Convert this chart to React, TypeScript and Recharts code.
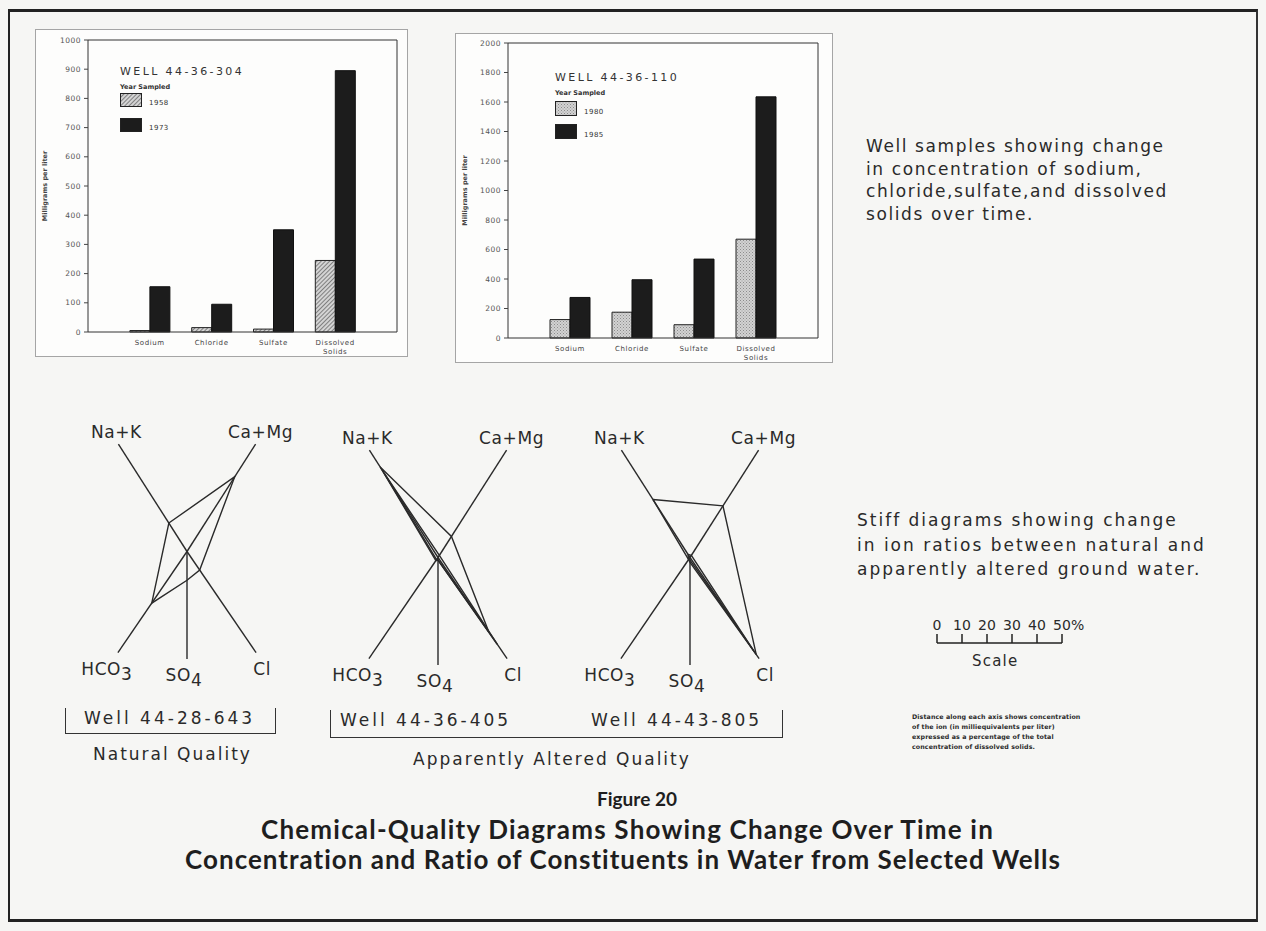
import { BarChart, Bar, XAxis, YAxis, Legend, Label, ScatterChart, Scatter } from 'recharts';

// concentration in milligrams per liter
const constituents = ['Sodium', 'Chloride', 'Sulfate', 'Dissolved Solids'];

const well304Years = ['1958', '1973'];
const well304Early = [5, 15, 10, 245];
const well304Late = [155, 95, 350, 895];
const well304Ticks = [0, 100, 200, 300, 400, 500, 600, 700, 800, 900, 1000];

const well110Years = ['1980', '1985'];
const well110Early = [125, 175, 90, 670];
const well110Late = [275, 395, 535, 1635];
const well110Ticks = [0, 200, 400, 600, 800, 1000, 1200, 1400, 1600, 1800, 2000];

// stiff diagrams: percent of total dissolved solids along each ion axis
const ions = ['Na+K', 'Ca+Mg', 'Cl', 'SO4', 'HCO3'];
const ionAxisLengths = [51, 51, 49, 43, 49];
const well643Samples = [[13.5, 35.5, 9, 11.5, 25]];
const well405Samples = [
  [43, 10, 36, 1, 1.5],
  [40, 1, 42, 1, 1],
];
const well805Samples = [
  [27.5, 24.5, 47, 2, 1],
  [1.5, 1, 45, 1, 1],
];

const scaleTicks = [0, 10, 20, 30, 40, 50];

// direction of each ion axis (x right, y up)
const ionDir: Record<string, [number, number]> = {
  'Na+K': [-0.538, 0.843],
  'Ca+Mg': [0.538, 0.843],
  Cl: [0.564, -0.826],
  SO4: [0, -1],
  HCO3: [-0.564, -0.826],
};
const ionLabelOffset: Record<string, [number, number]> = {
  'Na+K': [-2, -6],
  'Ca+Mg': [5, -6],
  Cl: [6, 22],
  SO4: [-3, 22],
  HCO3: [-11, 22],
};

const SANS = '"DejaVu Sans", sans-serif';
const INK = '#2a2a2a';

const toXY = (values: number[]) =>
  values.map((v, i) => ({ x: v * ionDir[ions[i]][0], y: v * ionDir[ions[i]][1] }));

const CategoryTick = ({ x, y, payload }: any) => {
  const words = String(payload.value).split(' ');
  return (
    <text x={x} y={y} textAnchor="middle" fontSize={7} fill="#444" fontFamily={SANS} letterSpacing={0.6}>
      {words.map((w, i) => (
        <tspan key={w} x={x} dy={i === 0 ? 5 : 9}>
          {w}
        </tspan>
      ))}
    </text>
  );
};

const YTitle = (props: any) => {
  const vb = props.viewBox;
  const cx = vb.x + 10;
  const cy = vb.y + vb.height / 2;
  return (
    <text
      x={cx}
      y={cy}
      transform={`rotate(-90 ${cx} ${cy})`}
      textAnchor="middle"
      dominantBaseline="central"
      fontSize={6.5}
      fontWeight={700}
      fill="#444"
      fontFamily={SANS}
    >
      Milligrams per liter
    </text>
  );
};

interface LegendProps {
  well: string;
  years: string[];
  fills: string[];
  gaps: number[];
  swatchH: number;
}

function WellLegend({ well, years, fills, gaps, swatchH }: LegendProps) {
  return (
    <div style={{ fontFamily: SANS, color: '#333', textAlign: 'left' }}>
      <div style={{ fontSize: 11, letterSpacing: 2.4, lineHeight: '12px' }}>WELL {well}</div>
      <div style={{ fontSize: 6.5, fontWeight: 700, lineHeight: '8px', marginTop: gaps[0] }}>Year Sampled</div>
      {years.map((yr, i) => (
        <div key={yr} style={{ display: 'flex', alignItems: 'flex-end', marginTop: gaps[i + 1] }}>
          <svg width={22} height={swatchH} style={{ display: 'block' }}>
            <rect x={0.5} y={0.5} width={21} height={swatchH - 1} fill={fills[i]} stroke="#222" />
          </svg>
          <span style={{ fontSize: 7, marginLeft: 7, lineHeight: '8px', letterSpacing: 0.5 }}>{yr}</span>
        </div>
      ))}
    </div>
  );
}

interface WellBarProps {
  well: string;
  years: string[];
  early: number[];
  late: number[];
  ticks: number[];
  earlyFill: string;
  left: number;
  top: number;
  width: number;
  height: number;
  marginTop: number;
  marginRight: number;
  legendPos: { left: number; top: number };
  legendGaps: number[];
  swatchH: number;
}

function WellBarChart(p: WellBarProps) {
  const data = constituents.map((name, i) => ({ name, early: p.early[i], late: p.late[i] }));
  const max = p.ticks[p.ticks.length - 1];
  const band = (p.width - 53 - p.marginRight) / 5;
  return (
    <div
      style={{
        position: 'absolute',
        left: p.left,
        top: p.top,
        width: p.width,
        height: p.height,
        background: '#fdfdfc',
        boxShadow: 'inset 0 0 0 1px #a5a5a5',
      }}
    >
      <BarChart
        width={p.width}
        height={p.height}
        data={data}
        margin={{ top: p.marginTop - 1, right: p.marginRight - 1, bottom: 0, left: 0 }}
        barGap={0}
        barSize={20}
      >
        <XAxis
          dataKey="name"
          height={25}
          interval={0}
          tickLine={false}
          axisLine={{ stroke: '#333' }}
          tick={<CategoryTick />}
          padding={{ left: band / 2, right: band / 2 }}
        />
        <XAxis
          xAxisId="frame"
          dataKey="name"
          orientation="top"
          height={1}
          tick={false}
          tickLine={false}
          axisLine={{ stroke: '#333' }}
        />
        <YAxis
          domain={[0, max]}
          ticks={p.ticks}
          interval={0}
          width={53}
          tickSize={4}
          tickMargin={3}
          tick={{ fontSize: 7.5, fill: '#555', fontFamily: SANS, letterSpacing: 0.5 }}
          axisLine={{ stroke: '#333' }}
          tickLine={{ stroke: '#444' }}
        >
          <Label content={<YTitle />} />
        </YAxis>
        <YAxis
          yAxisId="frame"
          orientation="right"
          width={1}
          domain={[0, max]}
          tick={false}
          tickLine={false}
          axisLine={{ stroke: '#333' }}
        />
        <Legend
          layout="horizontal"
          verticalAlign="middle"
          align="center"
          wrapperStyle={{ left: p.legendPos.left, top: p.legendPos.top, width: 170, height: 'auto' }}
          content={() => (
            <WellLegend
              well={p.well}
              years={p.years}
              fills={[p.earlyFill, '#1c1c1c']}
              gaps={p.legendGaps}
              swatchH={p.swatchH}
            />
          )}
        />
        <Bar dataKey="early" name={p.years[0]} fill={p.earlyFill} stroke="#222" strokeWidth={1} isAnimationActive={false} />
        <Bar dataKey="late" name={p.years[1]} fill="#1c1c1c" stroke="#111" strokeWidth={1} isAnimationActive={false} />
        <Bar xAxisId="frame" yAxisId="frame" dataKey="late" fill="none" legendType="none" isAnimationActive={false} hide />
      </BarChart>
    </div>
  );
}

const NoDot = () => <g />;

const IonLabel = (props: any) => {
  const { cx, cy, payload } = props;
  const ion: string = payload.ion;
  const [dx, dy] = ionLabelOffset[ion];
  const sub = ion === 'SO4' || ion === 'HCO3';
  const main = sub ? ion.slice(0, -1) : ion;
  return (
    <text x={cx + dx} y={cy + dy} textAnchor="middle" fontSize={17} fill={INK} fontFamily={SANS} letterSpacing={0.6}>
      {main}
      {sub && <tspan dy={5}>{ion.slice(-1)}</tspan>}
    </text>
  );
};

const STIFF_W = 270;
const STIFF_H = 305;

function StiffDiagram({ samples, centerX, centerY }: { samples: number[][]; centerX: number; centerY: number }) {
  const rays = ions.map((ion, i) => [
    { x: 0, y: 0 },
    { x: ionAxisLengths[i] * ionDir[ion][0], y: ionAxisLengths[i] * ionDir[ion][1] },
  ]);
  const ends = ions.map((ion, i) => ({ ...rays[i][1], ion }));
  const lineStyle = { stroke: INK, strokeWidth: 1.4 };
  return (
    <div style={{ position: 'absolute', left: centerX - STIFF_W / 2, top: centerY - STIFF_H / 2 }}>
      <ScatterChart width={STIFF_W} height={STIFF_H} margin={{ top: 30, right: 45, bottom: 30, left: 45 }}>
        <XAxis type="number" dataKey="x" domain={[-36, 36]} hide />
        <YAxis type="number" dataKey="y" domain={[-49, 49]} hide />
        {rays.map((r, i) => (
          <Scatter key={ions[i]} data={r} line={lineStyle} lineType="joint" shape={NoDot} isAnimationActive={false} />
        ))}
        {samples.map((s, i) => {
          const pts = toXY(s);
          return (
            <Scatter
              key={i}
              data={[...pts, pts[0]]}
              line={lineStyle}
              lineType="joint"
              shape={NoDot}
              isAnimationActive={false}
            />
          );
        })}
        <Scatter data={ends} shape={IonLabel} isAnimationActive={false} />
      </ScatterChart>
    </div>
  );
}

const ScaleTick = ({ x, y, payload }: any) => (
  <g>
    <text x={x} y={y} textAnchor="middle" fontSize={14} fill={INK} fontFamily={SANS}>
      {payload.value}
    </text>
    {payload.value === 50 && (
      <text x={x + 9} y={y} textAnchor="start" fontSize={14} fill={INK} fontFamily={SANS}>
        %
      </text>
    )}
  </g>
);

const textStyle = (size: number, spacing: number): React.CSSProperties => ({
  position: 'absolute',
  fontFamily: SANS,
  fontSize: size,
  letterSpacing: spacing,
  color: INK,
  whiteSpace: 'nowrap',
});

const bracket = (left: number, top: number, width: number, height: number): React.CSSProperties => ({
  position: 'absolute',
  left,
  top,
  width,
  height,
  borderLeft: '1.5px solid #333',
  borderRight: '1.5px solid #333',
  borderBottom: '1.5px solid #333',
  boxSizing: 'border-box',
});

const TITLE = '"Lato", "DejaVu Sans", sans-serif';

export default function App() {
  return (
    <div
      style={{
        position: 'absolute',
        left: 0,
        top: 0,
        width: 1266,
        height: 931,
        background: '#f6f6f4',
        overflow: 'hidden',
      }}
    >
      <svg width={0} height={0} style={{ position: 'absolute' }}>
        <defs>
          <pattern id="hatch" patternUnits="userSpaceOnUse" width={3} height={3} patternTransform="rotate(45)">
            <rect width={3} height={3} fill="#d4d4d4" />
            <line x1={0.5} y1={0} x2={0.5} y2={3} stroke="#808080" strokeWidth={1} />
          </pattern>
          <pattern id="stipple" patternUnits="userSpaceOnUse" width={3} height={3}>
            <rect width={3} height={3} fill="#d2d2d2" />
            <rect x={0} y={0} width={1} height={1} fill="#8c8c8c" />
            <rect x={1.5} y={1.5} width={1} height={1} fill="#9a9a9a" />
          </pattern>
        </defs>
      </svg>

      <div
        style={{
          position: 'absolute',
          left: 8,
          top: 9,
          width: 1250,
          height: 913,
          borderTop: '3px solid #222',
          borderLeft: '2px solid #222',
          borderRight: '2px solid #333',
          borderBottom: '3px solid #222',
          boxSizing: 'border-box',
        }}
      />

      <WellBarChart
        well="44-36-304"
        years={well304Years}
        early={well304Early}
        late={well304Late}
        ticks={well304Ticks}
        earlyFill="url(#hatch)"
        left={35}
        top={29}
        width={373}
        height={328}
        marginTop={11}
        marginRight={11}
        legendPos={{ left: 85, top: 37 }}
        legendGaps={[5, 2, 11]}
        swatchH={14}
      />
      <WellBarChart
        well="44-36-110"
        years={well110Years}
        early={well110Early}
        late={well110Late}
        ticks={well110Ticks}
        earlyFill="url(#stipple)"
        left={455}
        top={33}
        width={378}
        height={330}
        marginTop={10}
        marginRight={15}
        legendPos={{ left: 100, top: 39 }}
        legendGaps={[5, 4, 8]}
        swatchH={15}
      />

      <div style={{ ...textStyle(17, 1.6), left: 866, top: 135, lineHeight: '22.5px' }}>
        Well samples showing change
        <br />
        in concentration of sodium,
        <br />
        chloride,sulfate,and dissolved
        <br />
        solids over time.
      </div>

      <StiffDiagram samples={well643Samples} centerX={187} centerY={551} />
      <StiffDiagram samples={well405Samples} centerX={438} centerY={557} />
      <StiffDiagram samples={well805Samples} centerX={690} centerY={557} />

      <div style={bracket(65, 708, 211, 26)} />
      <div style={{ ...textStyle(17, 3), left: 84, top: 708 }}>Well 44-28-643</div>
      <div style={{ ...textStyle(17, 2), left: 93, top: 744 }}>Natural Quality</div>

      <div style={bracket(330, 710, 453, 28)} />
      <div style={{ ...textStyle(17, 3), left: 340, top: 710 }}>Well 44-36-405</div>
      <div style={{ ...textStyle(17, 3), left: 591, top: 710 }}>Well 44-43-805</div>
      <div style={{ ...textStyle(17, 2), left: 413, top: 749 }}>Apparently Altered Quality</div>

      <div style={{ ...textStyle(17, 2.0), left: 857, top: 508, lineHeight: '24.5px' }}>
        Stiff diagrams showing change
        <br />
        in ion ratios between natural and
        <br />
        apparently altered ground water.
      </div>

      <div style={{ position: 'absolute', left: 926.7, top: 613 }}>
        <ScatterChart width={160} height={36} margin={{ top: 0, right: 25, bottom: 0, left: 10 }}>
          <XAxis
            type="number"
            dataKey="x"
            orientation="top"
            domain={[0, 50]}
            ticks={scaleTicks}
            interval={0}
            height={30}
            tickSize={9}
            tickMargin={4}
            tick={<ScaleTick />}
            axisLine={{ stroke: '#222', strokeWidth: 1.5 }}
            tickLine={{ stroke: '#222', strokeWidth: 1.5 }}
          />
          <YAxis type="number" dataKey="y" domain={[0, 1]} hide />
          <Scatter data={scaleTicks.map((x) => ({ x, y: 0 }))} shape={NoDot} isAnimationActive={false} />
        </ScatterChart>
      </div>
      <div style={{ ...textStyle(15, 1.2), left: 972, top: 652 }}>Scale</div>

      <div
        style={{
          ...textStyle(6.3, 0.1),
          left: 912,
          top: 712,
          fontWeight: 700,
          lineHeight: '10px',
        }}
      >
        Distance along each axis shows concentration
        <br />
        of the ion (in milliequivalents per liter)
        <br />
        expressed as a percentage of the total
        <br />
        concentration of dissolved solids.
      </div>

      <div
        style={{
          position: 'absolute',
          left: 0,
          width: 1266,
          top: 784,
          textAlign: 'center',
          fontFamily: TITLE,
          fontWeight: 700,
          color: '#1e1e1e',
          fontVariantLigatures: 'none',
        }}
      >
        <div style={{ fontSize: 19, lineHeight: '30px', marginLeft: 8 }}>Figure 20</div>
        <div style={{ fontSize: 26, lineHeight: '30px', letterSpacing: 1.2, marginLeft: -11 }}>
          Chemical-Quality Diagrams Showing Change Over Time in
        </div>
        <div style={{ fontSize: 26, lineHeight: '30px', letterSpacing: 1.0, marginLeft: -20 }}>
          Concentration and Ratio of Constituents in Water from Selected Wells
        </div>
      </div>
    </div>
  );
}
